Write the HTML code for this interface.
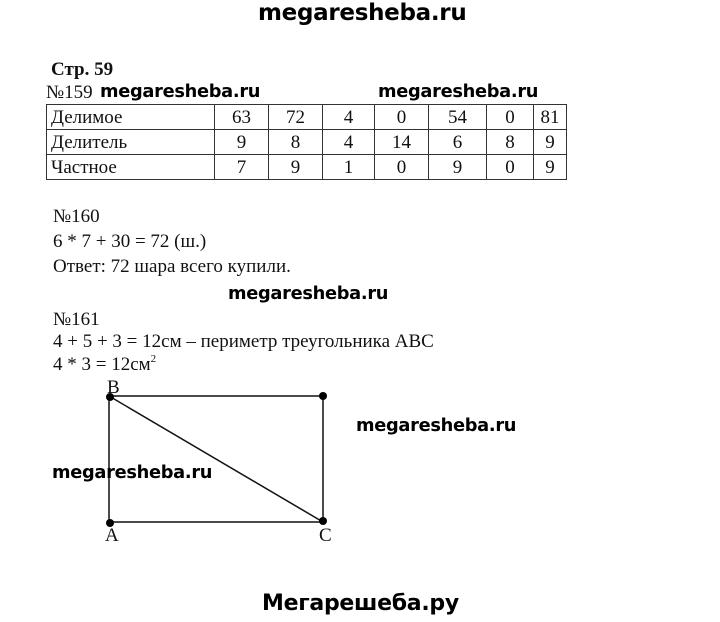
<!DOCTYPE html>
<html><head><meta charset="utf-8"><style>
body{margin:0;width:720px;height:622px;background:#fff;position:relative;overflow:hidden;font-family:"Liberation Serif",serif;color:#111}
.t{position:absolute;font-size:19px;white-space:nowrap;line-height:1}
.w{position:absolute;font-family:"DejaVu Sans","Liberation Sans",sans-serif;font-weight:bold;font-size:17.8px;white-space:nowrap;line-height:1;letter-spacing:-0.3px;color:#000}
table{position:absolute;left:46px;top:104px;border-collapse:collapse;font-size:19px}
td{border:1.5px solid #333;height:24px;padding:0;text-align:center;line-height:1}
td:first-child{text-align:left;padding-left:4px}
</style></head><body>
<div class="w" style="left:258px;top:2px;font-size:23px">megaresheba.ru</div>
<div class="t" style="left:51px;top:60px;font-weight:bold">Стр. 59</div>
<div class="t" style="left:46px;top:83px">№159</div>
<div class="w" style="left:100px;top:83px">megaresheba.ru</div>
<div class="w" style="left:378px;top:83px">megaresheba.ru</div>
<table>
<tr><td style="width:163px">Делимое</td><td style="width:53px">63</td><td style="width:53px">72</td><td style="width:51px">4</td><td style="width:53px">0</td><td style="width:57px">54</td><td style="width:46px">0</td><td style="width:32px">81</td></tr>
<tr><td>Делитель</td><td>9</td><td>8</td><td>4</td><td>14</td><td>6</td><td>8</td><td>9</td></tr>
<tr><td>Частное</td><td>7</td><td>9</td><td>1</td><td>0</td><td>9</td><td>0</td><td>9</td></tr>
</table>
<div class="t" style="left:53px;top:207px">№160</div>
<div class="t" style="left:53px;top:232px">6 * 7 + 30 = 72 (ш.)</div>
<div class="t" style="left:53px;top:257px">Ответ: 72 шара всего купили.</div>
<div class="w" style="left:228px;top:285px">megaresheba.ru</div>
<div class="t" style="left:53px;top:310px">№161</div>
<div class="t" style="left:53px;top:332px">4 + 5 + 3 = 12см – периметр треугольника ABC</div>
<div class="t" style="left:53px;top:354px">4 * 3 = 12см<sup style="font-size:11px;vertical-align:8px">2</sup></div>
<svg style="position:absolute;left:0;top:0" width="720" height="622">
<g stroke="#111" stroke-width="1.5" fill="none">
<rect x="109" y="396" width="214" height="126"/>
<line x1="109" y1="396" x2="323" y2="522"/>
</g>
<g fill="#000"><circle cx="110" cy="397" r="4"/><circle cx="323" cy="396" r="4"/><circle cx="110" cy="523" r="4"/><circle cx="323" cy="521" r="4"/></g>
</svg>
<div class="t" style="left:107px;top:378px">B</div>
<div class="t" style="left:105px;top:526px">A</div>
<div class="t" style="left:319px;top:526px">C</div>
<div class="w" style="left:356px;top:417px">megaresheba.ru</div>
<div class="w" style="left:52px;top:464px">megaresheba.ru</div>
<div class="w" style="left:262px;top:593px;font-size:22px">Мегарешеба.ру</div>
</body></html>
